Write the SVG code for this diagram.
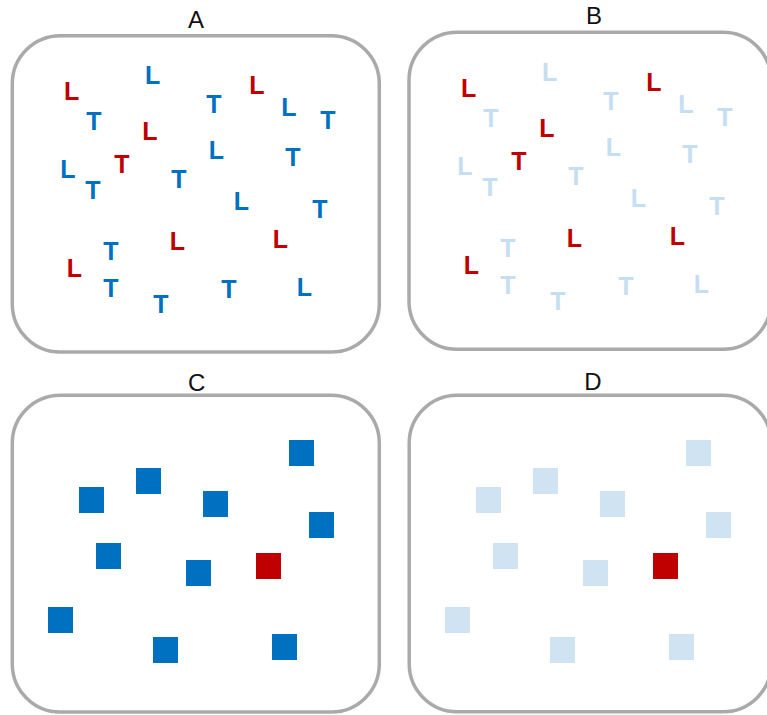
<svg xmlns="http://www.w3.org/2000/svg" width="767" height="715" viewBox="0 0 767 715">
<style>
.box{fill:#fff;stroke:#aaaaaa;stroke-width:3.5}
.lab{font-family:"Liberation Sans",Arial,sans-serif;font-size:24px;fill:#111;text-anchor:middle}
.g text{font-family:"Liberation Sans",Arial,sans-serif;font-size:25px;font-weight:bold;text-anchor:middle}
.b{fill:#0070c0}
.r{fill:#c00000}
.lb{fill:#c6def1}
.sq{fill:#0070c0}
.sqr{fill:#c00000}
.sql{fill:#cfe3f3}
</style>
<rect width="767" height="715" fill="#fff"/>

<g id="panelA">
<text class="lab" x="196" y="27.7">A</text>
<rect class="box" x="12.3" y="35.7" width="367" height="316.3" rx="48" ry="48"/>
<g class="g">
<text class="r" x="71.7" y="100">L</text>
<text class="b" x="152.7" y="84">L</text>
<text class="b" x="94" y="130">T</text>
<text class="b" x="214" y="113">T</text>
<text class="r" x="257" y="94">L</text>
<text class="b" x="289" y="116">L</text>
<text class="b" x="328" y="129">T</text>
<text class="r" x="150" y="140">L</text>
<text class="r" x="122" y="173">T</text>
<text class="b" x="216.5" y="159">L</text>
<text class="b" x="293" y="166">T</text>
<text class="b" x="68" y="178">L</text>
<text class="b" x="93" y="199">T</text>
<text class="b" x="179" y="188">T</text>
<text class="b" x="241.5" y="210">L</text>
<text class="b" x="320" y="218">T</text>
<text class="r" x="177.5" y="250">L</text>
<text class="r" x="280.5" y="248">L</text>
<text class="b" x="111" y="260">T</text>
<text class="r" x="74.5" y="277">L</text>
<text class="b" x="111" y="297">T</text>
<text class="b" x="161" y="313">T</text>
<text class="b" x="229" y="298">T</text>
<text class="b" x="304.5" y="296">L</text>
</g>
</g>

<g id="panelB">
<text class="lab" x="594" y="24.3">B</text>
<rect class="box" x="409" y="32.3" width="362" height="317" rx="48" ry="48"/>
<g class="g" transform="translate(397,-3.5)">
<text class="r" x="71.7" y="100">L</text>
<text class="lb" x="152.7" y="84">L</text>
<text class="lb" x="94" y="130">T</text>
<text class="lb" x="214" y="113">T</text>
<text class="r" x="257" y="94">L</text>
<text class="lb" x="289" y="116">L</text>
<text class="lb" x="328" y="129">T</text>
<text class="r" x="150" y="140">L</text>
<text class="r" x="122" y="173">T</text>
<text class="lb" x="216.5" y="159">L</text>
<text class="lb" x="293" y="166">T</text>
<text class="lb" x="68" y="178">L</text>
<text class="lb" x="93" y="199">T</text>
<text class="lb" x="179" y="188">T</text>
<text class="lb" x="241.5" y="210">L</text>
<text class="lb" x="320" y="218">T</text>
<text class="r" x="177.5" y="250">L</text>
<text class="r" x="280.5" y="248">L</text>
<text class="lb" x="111" y="260">T</text>
<text class="r" x="74.5" y="277">L</text>
<text class="lb" x="111" y="297">T</text>
<text class="lb" x="161" y="313">T</text>
<text class="lb" x="229" y="298">T</text>
<text class="lb" x="304.5" y="296">L</text>
</g>
</g>

<g id="panelC">
<text class="lab" x="196.7" y="390.5">C</text>
<rect class="box" x="12.3" y="395.3" width="367" height="316.7" rx="48" ry="48"/>
<g>
<rect class="sq" x="289" y="440" width="25" height="26"/>
<rect class="sq" x="79" y="487" width="25" height="26"/>
<rect class="sq" x="136" y="468" width="25" height="26"/>
<rect class="sq" x="203" y="491" width="25" height="26"/>
<rect class="sq" x="309" y="512" width="25" height="26"/>
<rect class="sq" x="96" y="543" width="25" height="26"/>
<rect class="sq" x="186" y="560" width="25" height="26"/>
<rect class="sqr" x="256" y="553" width="25" height="26"/>
<rect class="sq" x="48" y="607" width="25" height="26"/>
<rect class="sq" x="153" y="637" width="25" height="26"/>
<rect class="sq" x="272" y="634" width="25" height="26"/>
</g>
</g>

<g id="panelD">
<text class="lab" x="593" y="390">D</text>
<rect class="box" x="409.2" y="395.3" width="362" height="316.4" rx="48" ry="48"/>
<g transform="translate(397,0)">
<rect class="sql" x="289" y="440" width="25" height="26"/>
<rect class="sql" x="79" y="487" width="25" height="26"/>
<rect class="sql" x="136" y="468" width="25" height="26"/>
<rect class="sql" x="203" y="491" width="25" height="26"/>
<rect class="sql" x="309" y="512" width="25" height="26"/>
<rect class="sql" x="96" y="543" width="25" height="26"/>
<rect class="sql" x="186" y="560" width="25" height="26"/>
<rect class="sqr" x="256" y="553" width="25" height="26"/>
<rect class="sql" x="48" y="607" width="25" height="26"/>
<rect class="sql" x="153" y="637" width="25" height="26"/>
<rect class="sql" x="272" y="634" width="25" height="26"/>
</g>
</g>
</svg>
